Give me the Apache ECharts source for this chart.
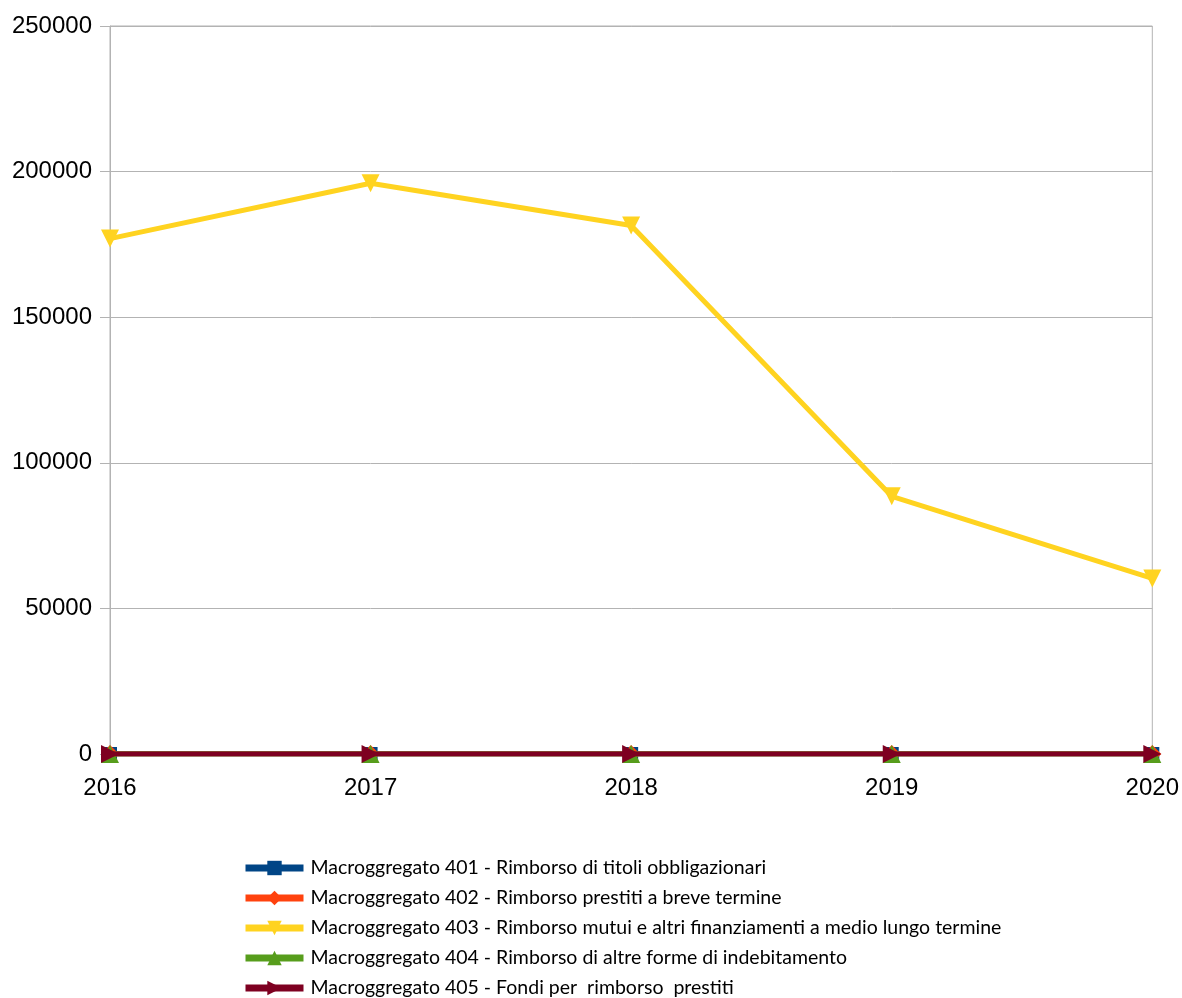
<!DOCTYPE html>
<html><head><meta charset="utf-8">
<script src="https://cdn.jsdelivr.net/npm/echarts@6/dist/echarts.min.js"></script>
<style>html,body{margin:0;padding:0;background:#fff}#c{width:1182px;height:998px}</style>
</head><body><div id="c"></div>
<script>
const years = ['2016','2017','2018','2019','2020'];
const seriesNames = [
  'Macroggregato 401 - Rimborso di titoli obbligazionari',
  'Macroggregato 402 - Rimborso prestiti a breve termine',
  'Macroggregato 403 - Rimborso mutui e altri finanziamenti a medio lungo termine',
  'Macroggregato 404 - Rimborso di altre forme di indebitamento',
  'Macroggregato 405 - Fondi per  rimborso  prestiti'
];
const v401 = [0, 0, 0, 0, 0];
const v402 = [0, 0, 0, 0, 0];
const v403 = [177000, 196000, 181500, 88500, 60300];
const v404 = [0, 0, 0, 0, 0];
const v405 = [0, 0, 0, 0, 0];
const colors = ['#004586','#ff420e','#ffd320','#579d1c','#7e0021'];
const symbols = ['rect','diamond','triangle','triangle','triangle'];
const rotates = [0, 0, 180, 0, -90];
const values = [v401, v402, v403, v404, v405];

const chart = echarts.init(document.getElementById('c'));
chart.setOption({
  animation: false,
  color: colors,
  grid: {left: 110, right: 26, top: 26, bottom: 244, show: true, borderColor: '#b3b3b3', borderWidth: 1},
  xAxis: {
    type: 'category', data: years, boundaryGap: false,
    axisLine: {show: false}, axisTick: {show: false},
    axisLabel: {color: '#000', fontSize: 24, fontFamily: 'Liberation Sans', margin: 22},
    splitLine: {show: false}
  },
  yAxis: {
    type: 'value', min: 0, max: 250000, interval: 50000,
    axisLine: {show: true, lineStyle: {color: '#b3b3b3'}},
    axisTick: {show: true, length: 10, lineStyle: {color: '#b3b3b3'}},
    axisLabel: {color: '#000', fontSize: 24, fontFamily: 'Liberation Sans', margin: 18,
      formatter: v => String(v)},
    splitLine: {show: true, lineStyle: {color: '#b3b3b3', width: 1}}
  },
  legend: {
    orient: 'vertical', left: 242, top: 858, height: 300, itemGap: 10, itemWidth: 58, itemHeight: 18,
    padding: 0,
    lineStyle: {width: 7},
    textStyle: {fontSize: 19.5, color: '#000', fontFamily: 'Lato', lineHeight: 18, padding: [0,0,0,2]},
    data: seriesNames
  },
  series: seriesNames.map((n, i) => ({
    name: n, type: 'line', data: values[i],
    symbol: symbols[i], symbolSize: i === 0 ? 14 : 18, symbolRotate: rotates[i],
    showSymbol: true,
    lineStyle: {width: 5, color: colors[i]},
    itemStyle: {color: colors[i]},
    z: 2 + i
  }))
});
</script></body></html>
